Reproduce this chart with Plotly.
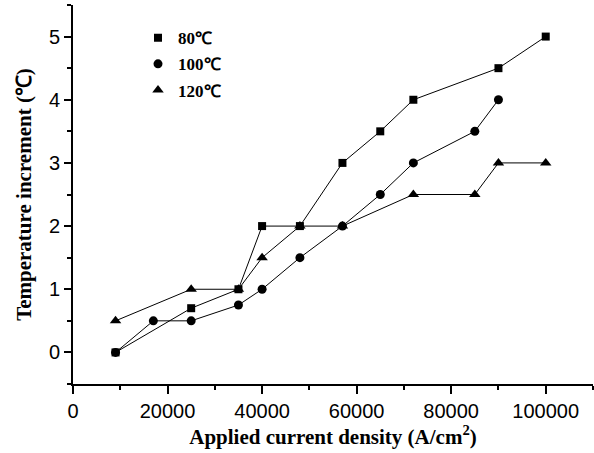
import plotly.graph_objects as go

x80 = [9000, 25000, 35000, 40000, 48000, 57000, 65000, 72000, 90000, 100000]
y80 = [0, 0.7, 1, 2, 2, 3, 3.5, 4, 4.5, 5]
x100 = [9000, 17000, 25000, 35000, 40000, 48000, 57000, 65000, 72000, 85000, 90000]
y100 = [0, 0.5, 0.5, 0.75, 1, 1.5, 2, 2.5, 3, 3.5, 4]
x120 = [9000, 25000, 35000, 40000, 48000, 57000, 72000, 85000, 90000, 100000]
y120 = [0.5, 1, 1, 1.5, 2, 2, 2.5, 2.5, 3, 3]

names = ["80℃", "100℃", "120℃"]
symbols = ["square", "circle", "triangle-up"]
sizes = [8, 9, 10]
xs = [x80, x100, x120]
ys = [y80, y100, y120]

fig = go.Figure()
for i in range(3):
    fig.add_trace(go.Scatter(
        x=xs[i], y=ys[i], mode="lines+markers", showlegend=False,
        line=dict(color="black", width=1),
        marker=dict(symbol=symbols[i], size=sizes[i], color="black"),
    ))
for i in range(3):
    fig.add_trace(go.Scatter(
        x=[None], y=[None], mode="markers", name="<b>" + names[i] + "</b>", legendgroup=str(i),
        marker=dict(symbol=symbols[i], size=sizes[i], color="black"),
    ))

fig.update_layout(
    width=594, height=453,
    margin=dict(l=73, r=1, t=5, b=69),
    paper_bgcolor="white", plot_bgcolor="white",
    showlegend=True,
    legend=dict(x=0.125, y=0.96, xanchor="left", yanchor="top",
                font=dict(family="Liberation Serif", size=17, color="black"),
                bgcolor="rgba(0,0,0,0)", tracegroupgap=1, itemwidth=30),
    xaxis=dict(range=[0, 110000], tickvals=[0, 20000, 40000, 60000, 80000, 100000],
               ticktext=["0", "20000", "40000", "60000", "80000", "100000"],
               automargin=False,
               showgrid=False, zeroline=False, showline=True, linecolor="black", linewidth=2,
               ticks="outside", ticklen=8, tickwidth=2, tickcolor="black",
               minor=dict(tickvals=[10000, 30000, 50000, 70000, 90000, 110000], ticks="outside", ticklen=4, tickwidth=2, tickcolor="black"),
               tickfont=dict(family="Liberation Sans", size=20, color="black"),
               title=dict(text="<b>Applied current density (A/cm<sup>2</sup>)</b>", standoff=8,
                          font=dict(family="Liberation Serif", size=21, color="black"))),
    yaxis=dict(range=[-0.5, 5.5], tickvals=[0, 1, 2, 3, 4, 5],
               automargin=False,
               showgrid=False, zeroline=False, showline=True, linecolor="black", linewidth=2,
               ticks="outside", ticklen=7, tickwidth=2, tickcolor="black",
               minor=dict(tickvals=[-0.5, 0.5, 1.5, 2.5, 3.5, 4.5, 5.5], ticks="outside", ticklen=4, tickwidth=2, tickcolor="black"),
               tickfont=dict(family="Liberation Sans", size=20, color="black"),
               title=dict(text="<b>Temperature increment (℃)</b>", standoff=12,
                          font=dict(family="Liberation Serif", size=21, color="black"))),
)
fig.write_html("out.html", config={"displayModeBar": False},
               post_script="document.body.style.margin='0px';document.body.style.padding='0px';")
